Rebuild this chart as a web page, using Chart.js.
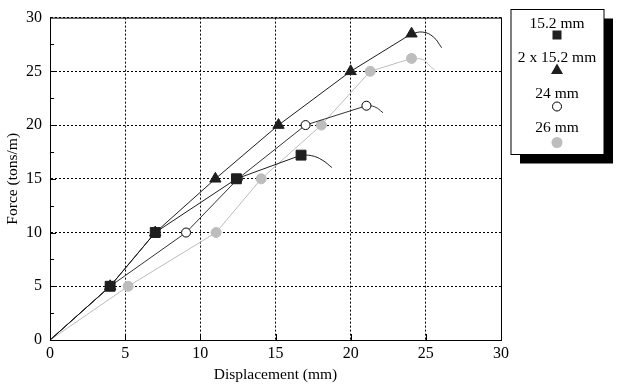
<!DOCTYPE html>
<html>
<head>
<meta charset="utf-8">
<script src="https://cdn.jsdelivr.net/npm/chart.js@4"></script>
<style>
  html, body { margin: 0; padding: 0; background: #fff; }
  #wrap { width: 623px; height: 392px; position: relative; }
</style>
</head>
<body>
<div id="wrap"><canvas id="forceChart"></canvas></div>
<script>
// series values (displacement mm, force tons/m)
const seriesLabels = ["15.2 mm", "2 x 15.2 mm", "24 mm", "26 mm"];

const sq_x = [0, 4, 7, 12.4, 16.7];
const sq_y = [0, 5, 10, 15, 17.2];
const sqTail_x = [16.7, 17.4, 18.1, 18.75];
const sqTail_y = [17.2, 17.15, 16.75, 16.05];

const tri_x = [0, 4, 7, 11, 15.2, 20, 24.05];
const tri_y = [0, 5, 10, 15, 20, 25, 28.5];
const triTail_x = [24.05, 24.8, 25.5, 26.05];
const triTail_y = [28.5, 28.65, 28.2, 27.2];

const open_x = [0, 4, 9.05, 12.5, 17, 21.05];
const open_y = [0, 5, 10, 15, 20, 21.8];
const openTail_x = [21.05, 21.6, 22.15];
const openTail_y = [21.8, 21.7, 21.15];

const grey_x = [0, 5.2, 11.05, 14.05, 18.05, 21.3, 24.05];
const grey_y = [0, 5, 10, 15, 20, 25, 26.2];
const greyTail_x = [24.05, 24.8, 25.2, 25.6];
const greyTail_y = [26.2, 26.1, 25.6, 25.1];

const xTicks = [0, 5, 10, 15, 20, 25, 30];
const yTicks = [0, 5, 10, 15, 20, 25, 30];

const DARK = "#1e1e1e";
const GREY = "#bdbdbd";
const SERIF = '"Liberation Serif", "Times New Roman", serif';

function pts(xs, ys) {
    return xs.map((x, i) => ({ x: x, y: ys[i] }));
}

function mainSet(label, xs, ys, style, radius, fill, border, line, order) {
    return {
        label: label,
        data: pts(xs, ys),
        showLine: true,
        borderColor: line,
        borderWidth: 1,
        pointStyle: style,
        // no marker on the origin point
        pointRadius: xs.map((x, i) => (i === 0 ? 0 : radius)),
        pointBackgroundColor: fill,
        pointBorderColor: border,
        pointBorderWidth: 1,
        order: order,
    };
}

function tailSet(xs, ys, line, order) {
    return {
        label: "",
        data: pts(xs, ys),
        showLine: true,
        borderColor: line,
        borderWidth: 1,
        pointRadius: 0,
        tension: 0.45,
        order: order,
    };
}

// inward tick marks, frame and the boxed legend
const framePlugin = {
    id: "frame",
    afterDraw(chart) {
        const ctx = chart.ctx;
        const a = chart.chartArea;
        const xs = chart.scales.x;
        const ys = chart.scales.y;
        ctx.save();
        ctx.strokeStyle = "#000";
        ctx.lineWidth = 1;
        ctx.setLineDash([]);
        ctx.strokeRect(a.left + 0.5, a.top + 0.5, a.right - a.left, a.bottom - a.top);
        ctx.beginPath();
        for (let v = 2.5; v < 30; v += 2.5) {
            const y = Math.round(ys.getPixelForValue(v)) + 0.5;
            const len = v % 5 === 0 ? 6 : 4;
            ctx.moveTo(a.left, y);
            ctx.lineTo(a.left + len, y);
        }
        xTicks.slice(1, -1).forEach((v) => {
            const x = Math.round(xs.getPixelForValue(v)) + 0.5;
            ctx.moveTo(x, a.bottom);
            ctx.lineTo(x, a.bottom - 6);
        });
        ctx.stroke();

        // legend box with shadow
        const bx = 511, by = 9.5, bw = 93, bh = 145;
        ctx.fillStyle = "#000";
        ctx.fillRect(bx + 9, by + 9, bw, bh);
        ctx.fillStyle = "#fff";
        ctx.fillRect(bx, by, bw, bh);
        ctx.strokeRect(bx, by, bw, bh);

        const cx = 557;
        const textY = [23.5, 58, 94, 128];
        const markY = [35, 70, 106.5, 142.5];
        ctx.font = "15.5px " + SERIF;
        ctx.textAlign = "center";
        ctx.textBaseline = "middle";
        ctx.fillStyle = "#000";
        seriesLabels.forEach((t, i) => ctx.fillText(t, cx, textY[i]));

        ctx.fillStyle = DARK;
        ctx.fillRect(cx - 4.5, markY[0] - 4.5, 9, 9);
        ctx.beginPath();
        ctx.moveTo(cx, markY[1] - 6.5);
        ctx.lineTo(cx + 6, markY[1] + 4);
        ctx.lineTo(cx - 6, markY[1] + 4);
        ctx.closePath();
        ctx.fill();
        ctx.beginPath();
        ctx.arc(cx, markY[2], 4.5, 0, Math.PI * 2);
        ctx.fillStyle = "#fff";
        ctx.fill();
        ctx.strokeStyle = "#000";
        ctx.stroke();
        ctx.beginPath();
        ctx.arc(cx, markY[3], 5.5, 0, Math.PI * 2);
        ctx.fillStyle = GREY;
        ctx.fill();
        ctx.restore();
    },
};

const ctx = document.getElementById("forceChart").getContext("2d");

new Chart(ctx, {
    type: "scatter",
    data: {
        datasets: [
            mainSet(seriesLabels[0], sq_x, sq_y, "rect", 7, DARK, DARK, DARK, 1),
            tailSet(sqTail_x, sqTail_y, DARK, 1),
            mainSet(seriesLabels[1], tri_x, tri_y, "triangle", 6.5, DARK, DARK, DARK, 2),
            tailSet(triTail_x, triTail_y, DARK, 2),
            mainSet(seriesLabels[2], open_x, open_y, "circle", 4.5, "#fff", "#000", "#333", 3),
            tailSet(openTail_x, openTail_y, "#333", 3),
            mainSet(seriesLabels[3], grey_x, grey_y, "circle", 5, GREY, GREY, GREY, 4),
            tailSet(greyTail_x, greyTail_y, GREY, 4),
        ],
    },
    options: {
        responsive: true,
        maintainAspectRatio: false,
        animation: false,
        layout: { padding: { top: 9, right: 122, left: 0, bottom: 0 } },
        plugins: {
            legend: { display: false },
            tooltip: { enabled: false },
        },
        scales: {
            x: {
                type: "linear",
                min: 0,
                max: 30,
                afterBuildTicks: (s) => { s.ticks = xTicks.map((v) => ({ value: v })); },
                afterFit: (s) => { s.height = 52; },
                ticks: { color: "#000", padding: 4, font: { family: SERIF, size: 16 } },
                grid: { color: "#000", lineWidth: 1, drawTicks: false },
                border: { display: true, color: "#000", width: 1, dash: [2, 2] },
                title: {
                    display: true,
                    text: "Displacement (mm)",
                    color: "#000",
                    font: { family: SERIF, size: 15.5 },
                    padding: { top: 0, bottom: 8 },
                },
            },
            y: {
                type: "linear",
                min: 0,
                max: 30,
                afterBuildTicks: (s) => { s.ticks = yTicks.map((v) => ({ value: v })); },
                afterFit: (s) => { s.width = 50; },
                ticks: { color: "#000", padding: 8, font: { family: SERIF, size: 16 } },
                grid: { color: "#000", lineWidth: 1, drawTicks: false },
                border: { display: true, color: "#000", width: 1, dash: [2, 2] },
                title: {
                    display: true,
                    text: "Force (tons/m)",
                    color: "#000",
                    font: { family: SERIF, size: 15.5 },
                    padding: { top: 4, bottom: 0 },
                },
            },
        },
    },
    plugins: [framePlugin],
});
</script>
</body>
</html>
